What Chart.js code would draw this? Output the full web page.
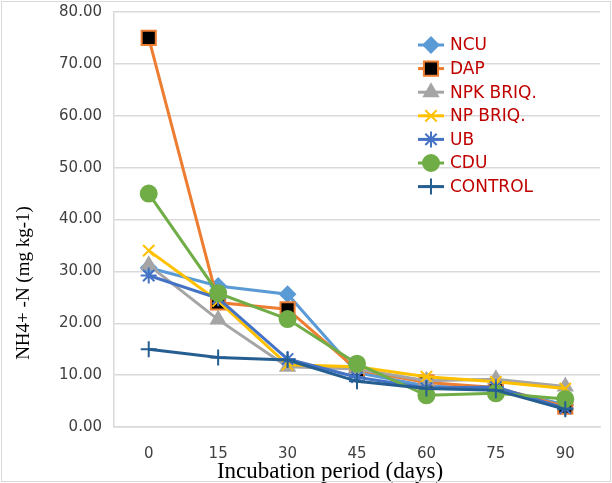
<!DOCTYPE html>
<html>
<head>
<meta charset="utf-8">
<script src="https://cdn.jsdelivr.net/npm/chart.js@4/dist/chart.umd.min.js"></script>
<style>
  body { margin: 0; background: #fff; }
  canvas { display: block; }
</style>
</head>
<body>
<canvas id="myChart" width="612" height="483"></canvas>
<script>
var days = ["0", "15", "30", "45", "60", "75", "90"];
var yTicks = [0, 10, 20, 30, 40, 50, 60, 70, 80];

var ncu     = [30.7, 27.2, 25.6, 10.5, 7.9, 7.4, 4.3];
var dap     = [75.0, 24.0, 22.7, 11.0, 8.6, 7.6, 3.9];
var npkBriq = [31.2, 20.7, 11.6, 11.2, 8.9, 9.2, 7.8];
var npBriq  = [34.0, 24.3, 12.0, 11.6, 9.7, 8.7, 7.4];
var ub      = [29.2, 24.8, 13.1, 9.6, 7.5, 7.7, 3.6];
var cdu     = [45.0, 25.8, 20.8, 12.2, 6.1, 6.5, 5.4];
var control = [15.0, 13.4, 12.9, 8.8, 7.4, 7.1, 3.4];

var yTitle = "NH4+ -N (mg kg-1)";
var xTitle = "Incubation period (days)";

// legend drawn inside the plot, like the excel chart
var legendBox = {
  id: "legendBox",
  afterDraw: function(chart) {
    var ctx = chart.ctx;
    ctx.save();
    chart.data.datasets.forEach(function(ds, i) {
      var y = 45 + i * 23.6;
      ctx.strokeStyle = ds.borderColor;
      ctx.lineWidth = 3;
      ctx.beginPath();
      ctx.moveTo(418, y);
      ctx.lineTo(444, y);
      ctx.stroke();
      ctx.fillStyle = ds.pointBackgroundColor;
      ctx.strokeStyle = ds.pointBorderColor;
      ctx.lineWidth = ds.pointBorderWidth;
      Chart.helpers.drawPoint(ctx, {pointStyle: ds.pointStyle, radius: ds.pointRadius, borderWidth: ds.pointBorderWidth, rotation: 0}, 431, y);
      ctx.fillStyle = "#C00000";
      ctx.font = "17px 'DejaVu Sans'";
      ctx.textAlign = "left";
      ctx.textBaseline = "middle";
      ctx.fillText(ds.label, 450, y + 1);
    });

    // axis titles
    ctx.fillStyle = "#000";
    ctx.font = "23px 'Liberation Serif'";
    ctx.textAlign = "center";
    ctx.textBaseline = "alphabetic";
    ctx.fillText(xTitle, 330, 478);

    ctx.translate(29, 283);
    ctx.rotate(-Math.PI / 2);
    ctx.font = "19px 'Liberation Serif'";
    ctx.fillText(yTitle, 0, 0);
    ctx.restore();

    ctx.save();
    ctx.strokeStyle = "#d9d9d9";
    ctx.lineWidth = 1;
    ctx.strokeRect(1.5, 1.5, 609, 480);
    ctx.restore();
  }
};

function series(label, data, color, style, size, fill, edge, order) {
  return {
    label: label,
    data: data,
    borderColor: color,
    backgroundColor: color,
    borderWidth: 3,
    pointStyle: style,
    pointRadius: size,
    pointHoverRadius: size,
    pointBackgroundColor: fill,
    pointBorderColor: edge,
    pointBorderWidth: 2,
    tension: 0,
    order: order
  };
}

var myChart = document.getElementById("myChart").getContext("2d");

var chart = new Chart(myChart, {
  type: "line",
  data: {
    labels: days,
    datasets: [
      series("NCU", ncu, "#5B9BD5", "rectRot", 7.5, "#5B9BD5", "#5B9BD5", 7),
      series("DAP", dap, "#ED7D31", "rect", 10, "#000000", "#ED7D31", 6),
      series("NPK BRIQ.", npkBriq, "#A5A5A5", "triangle", 8, "#A5A5A5", "#A5A5A5", 5),
      series("NP BRIQ.", npBriq, "#FFC000", "crossRot", 8, "#FFC000", "#FFC000", 4),
      series("UB", ub, "#4472C4", "star", 8, "#4472C4", "#4472C4", 3),
      series("CDU", cdu, "#70AD47", "circle", 8, "#70AD47", "#70AD47", 2),
      series("CONTROL", control, "#255E91", "cross", 8, "#255E91", "#255E91", 1)
    ]
  },
  options: {
    responsive: false,
    animation: false,
    layout: { padding: { left: 0, top: 12, right: 10, bottom: 0 } },
    plugins: {
      legend: { display: false },
      tooltip: { enabled: false }
    },
    scales: {
      x: {
        offset: true,
        grid: { display: false },
        border: { display: true, color: "#d9d9d9", width: 1.5 },
        ticks: { color: "#404040", font: { family: "DejaVu Sans", size: 15 }, padding: 10 },
        afterFit: function(scale) { scale.height = 56; }
      },
      y: {
        min: 0,
        max: 80,
        afterBuildTicks: function(scale) {
          scale.ticks = yTicks.map(function(v) { return { value: v }; });
        },
        grid: { color: "#d9d9d9", lineWidth: 1.5, drawTicks: false },
        border: { display: true, color: "#d9d9d9", width: 1.5 },
        ticks: {
          color: "#404040",
          font: { family: "DejaVu Sans", size: 15 },
          padding: 12,
          callback: function(v) { return Number(v).toFixed(2); }
        },
        afterFit: function(scale) {
          scale.width = 114;
          scale.paddingTop = 0;
          scale.paddingBottom = 0;
        }
      }
    }
  },
  plugins: [legendBox]
});
</script>
</body>
</html>
